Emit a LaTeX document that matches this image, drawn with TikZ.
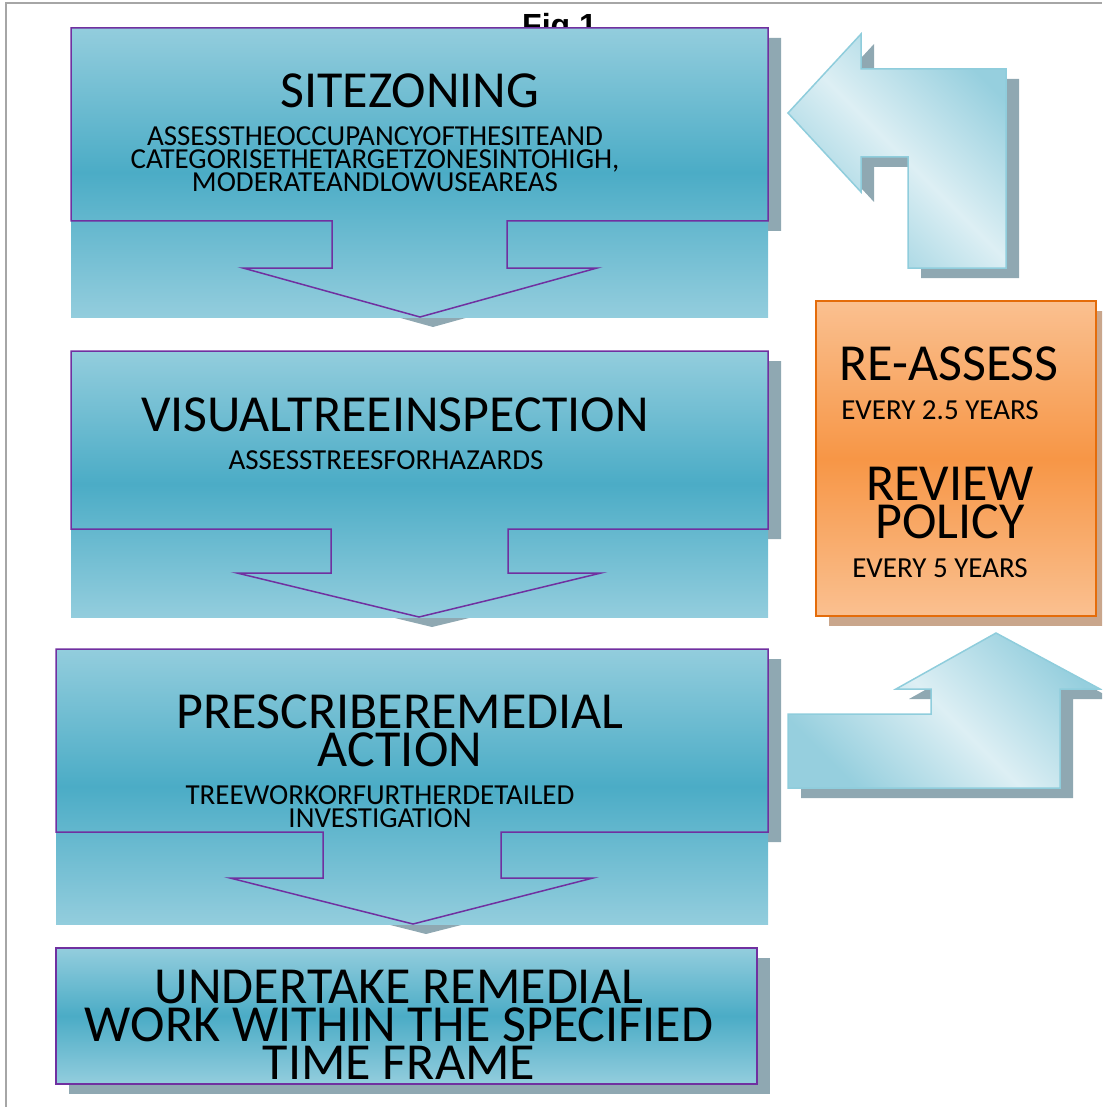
\documentclass[tikz,border=0pt]{standalone}
\usepackage{fontspec}
\setmainfont{Carlito}
\newfontfamily\figfont{Liberation Sans}
\usepackage{tikz}

\definecolor{boxlight}{HTML}{93CDDD}
\definecolor{boxdark}{HTML}{4BACC6}
\definecolor{boxline}{HTML}{7030A0}
\definecolor{shadowgray}{HTML}{8FA8B2}
\definecolor{turnlight}{HTML}{DDEFF4}
\definecolor{turndark}{HTML}{96CFDE}
\definecolor{turnline}{HTML}{8FCDDC}
\definecolor{orangelight}{HTML}{FAC090}
\definecolor{orangedark}{HTML}{F79646}
\definecolor{orangeline}{HTML}{E46C0A}
\definecolor{orangeshadow}{HTML}{C9A68C}
\definecolor{pageline}{HTML}{A6A6A6}

\begin{document}
\begin{tikzpicture}[x=1pt,y=-1pt,
  shadow/.style={fill=shadowgray,shift={(13,10)}},
  outline/.style={draw=boxline,line width=1.5pt},
  boxfill/.style={top color=boxlight,bottom color=boxlight,middle color=boxdark},
  turnfill/.style={top color=turndark,bottom color=turndark,middle color=turnlight,shading angle=-45,draw=turnline,line width=1.5pt},
  title/.style={font=\fontsize{52}{38}\selectfont,align=center,anchor=base,inner sep=0pt},
  sub/.style={font=\fontsize{29}{23}\selectfont,align=center,anchor=base,inner sep=0pt}]

\useasboundingbox (0,0) rectangle (1102,1107);
\clip (0,0) rectangle (1102,1107);

% page edge
\draw[pageline,line width=1.5pt] (6,1107) -- (6,3) -- (1102,3);

% figure label, mostly under the first box
\node[font=\figfont\bfseries\fontsize{32}{32}\selectfont,anchor=base west,inner sep=0pt] (figlabel) at (522,37) {Fig 1};

% site zoning box
\fill[shadow] (71,28) -- (768,28) -- (768,221) -- (507,221) -- (507,268) -- (597,268) -- (420,317) -- (243,268) -- (332,268) -- (332,221) -- (71,221) -- cycle;
\shade[boxfill] (71,28) rectangle (768,317);
\draw[outline] (71,28) -- (768,28) -- (768,221) -- (507,221) -- (507,268) -- (597,268) -- (420,317) -- (243,268) -- (332,268) -- (332,221) -- (71,221) -- cycle;
\node[title] (zoning) at (410,108) {SITEZONING};
\node[sub] (zoningtext) at (375,192) {ASSESSTHEOCCUPANCYOFTHESITEAND\\CATEGORISETHETARGETZONESINTOHIGH,\\MODERATEANDLOWUSEAREAS};

% tree inspection box
\fill[shadow] (71,351) -- (768,351) -- (768,529) -- (508,529) -- (508,573) -- (601,573) -- (419,617) -- (237,573) -- (331,573) -- (331,529) -- (71,529) -- cycle;
\shade[boxfill] (71,351) rectangle (768,617);
\draw[outline] (71,351) -- (768,351) -- (768,529) -- (508,529) -- (508,573) -- (601,573) -- (419,617) -- (237,573) -- (331,573) -- (331,529) -- (71,529) -- cycle;
\node[title] (inspection) at (395,431) {VISUALTREEINSPECTION};
\node[sub] (inspectiontext) at (386,469) {ASSESSTREESFORHAZARDS};

% remedial action box
\fill[shadow] (56,649) -- (768,649) -- (768,832) -- (501,832) -- (501,878) -- (593,878) -- (413,924) -- (230,878) -- (323,878) -- (323,832) -- (56,832) -- cycle;
\shade[boxfill] (56,649) rectangle (768,924);
\draw[outline] (56,649) -- (768,649) -- (768,832) -- (501,832) -- (501,878) -- (593,878) -- (413,924) -- (230,878) -- (323,878) -- (323,832) -- (56,832) -- cycle;
\node[title] (action) at (400,766) {PRESCRIBEREMEDIAL\\ACTION};
\node[sub] (actiontext) at (380,827) {TREEWORKORFURTHERDETAILED\\INVESTIGATION};

% undertake work box
\fill[shadow] (56,948) rectangle (757,1084);
\shade[boxfill,outline] (56,948) rectangle (757,1084);
\node[title] (undertake) at (399,1079) {UNDERTAKE REMEDIAL\\WORK WITHIN THE SPECIFIED\\TIME FRAME};

% turn arrow back to the top
\fill[shadow] (788,113) -- (861,34) -- (861,69) -- (1006,69) -- (1006,268) -- (908,268) -- (908,157) -- (861,157) -- (861,192) -- cycle;
\shade[turnfill] (788,113) -- (861,34) -- (861,69) -- (1006,69) -- (1006,268) -- (908,268) -- (908,157) -- (861,157) -- (861,192) -- cycle;

% review box
\fill[orangeshadow,shift={(13,10)}] (816,301) rectangle (1096,616);
\shade[top color=orangelight,bottom color=orangelight,middle color=orangedark,draw=orangeline,line width=2pt] (816,301) rectangle (1096,616);
\node[title] (reassess) at (949,380) {RE-ASSESS};
\node[sub] (reassesstext) at (940,419) {EVERY 2.5 YEARS};
\node[title] (review) at (950,538) {REVIEW\\POLICY};
\node[sub] (reviewtext) at (940,577) {EVERY 5 YEARS};

% up arrow into the review box
\fill[shadow] (996,633) -- (1100,689) -- (1060,689) -- (1060,788) -- (788,788) -- (788,714) -- (931,714) -- (931,689) -- (896,689) -- cycle;
\shade[turnfill] (996,633) -- (1100,689) -- (1060,689) -- (1060,788) -- (788,788) -- (788,714) -- (931,714) -- (931,689) -- (896,689) -- cycle;

\end{tikzpicture}
\end{document}
